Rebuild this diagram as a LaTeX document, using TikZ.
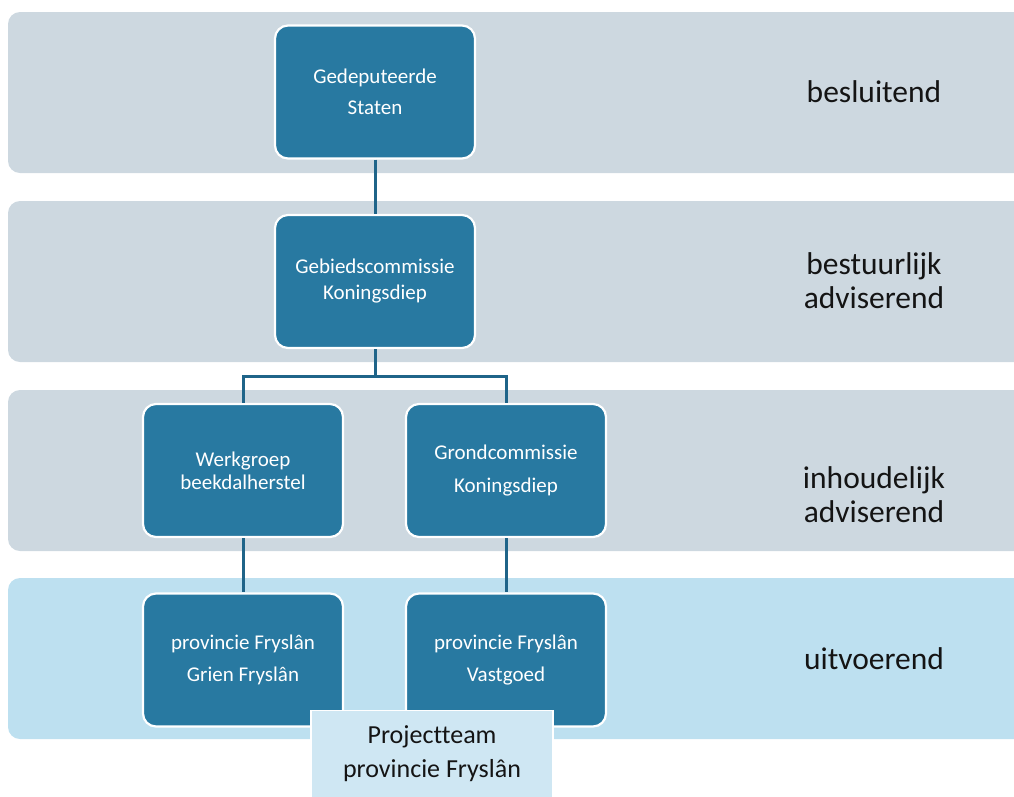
\documentclass[tikz,border=0pt]{standalone}
\usepackage{fontspec}
\setmainfont[Ligatures={NoCommon,NoRare}]{Carlito}
\definecolor{bandgray}{RGB}{205,216,224}
\definecolor{bandblue}{RGB}{189,224,240}
\definecolor{boxblue}{RGB}{40,121,161}
\definecolor{linkblue}{RGB}{31,100,137}
\definecolor{teamblue}{RGB}{207,231,243}
\definecolor{labeltext}{RGB}{20,20,20}
\tikzset{
  band/.style={fill=#1, draw=none, rounded corners=12pt},
  orgbox/.style={draw=white, line width=2.2pt, fill=boxblue, rounded corners=13pt,
    minimum width=200pt, minimum height=133pt, inner sep=0pt,
    text=white, align=center},
  levellabel/.style={text=labeltext, align=center, font=\fontsize{31.5}{34}\selectfont},
  link/.style={draw=linkblue, line width=3pt},
  team/.style={draw=white, line width=1.2pt, fill=teamblue, minimum width=242pt,
    minimum height=87pt, inner sep=0pt, text=labeltext, align=center,
    font=\fontsize{26}{34}\selectfont}
}
\begin{document}
\begin{tikzpicture}[x=1pt,y=-1pt]
\useasboundingbox (0,0) rectangle (1014,796);
% bands
\path[band=bandgray] (8,12) rectangle (1030,173);
\path[band=bandgray] (8,201) rectangle (1030,362);
\path[band=bandgray] (8,390) rectangle (1030,551);
\path[band=bandblue] (8,578) rectangle (1030,739);
% level labels
\node[levellabel] (l1) at (874,92) {besluitend};
\node[levellabel] (l2) at (874,281) {bestuurlijk\\adviserend};
\node[levellabel] (l3) at (874,495) {inhoudelijk\\adviserend};
\node[levellabel] (l4) at (874,659) {uitvoerend};
% boxes
\node[orgbox, font=\fontsize{21}{31}\selectfont] (gs) at (375,92) {Gedeputeerde\\Staten};
\node[orgbox, font=\fontsize{21}{26}\selectfont] (gc) at (375,281.5) {Gebiedscommissie\\Koningsdiep};
\node[orgbox, font=\fontsize{21}{23}\selectfont] (wg) at (243,470.5) {Werkgroep\\beekdalherstel};
\node[orgbox, font=\fontsize{21}{33}\selectfont] (gr) at (506,470.5) {Grondcommissie\\Koningsdiep};
\node[orgbox, font=\fontsize{21}{32}\selectfont] (pg) at (243,660) {provincie Fryslân\\Grien Fryslân};
\node[orgbox, font=\fontsize{21}{32}\selectfont] (pv) at (506,660) {provincie Fryslân\\Vastgoed};
% connectors
\coordinate (split) at (375,376);
\draw[link] (gs.south) -- (gc.north);
\draw[link] (gc.south) -- (split);
\draw[link] (split) -| (wg.north);
\draw[link] (split) -| (gr.north);
\draw[link] (wg.south) -- (pg.north);
\draw[link] (gr.south) -- (pv.north);
% project team
\node[team] (pt) at (432,754) {Projectteam\\provincie Fryslân};
\end{tikzpicture}
\end{document}
